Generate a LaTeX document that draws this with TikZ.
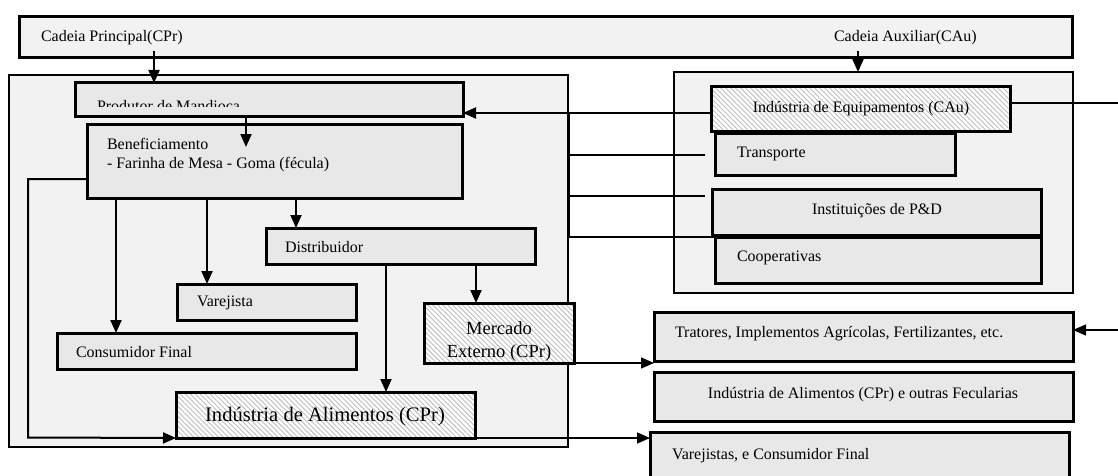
\documentclass[tikz,border=0pt]{standalone}
\usepackage{fontspec}
\setmainfont{Liberation Serif}
\usetikzlibrary{arrows.meta,patterns.meta}
\definecolor{barfill}{HTML}{F2F2F2}
\definecolor{boxfill}{HTML}{E8E8E8}
\definecolor{hatchcol}{HTML}{BEBEBE}
\tikzset{
  outerbox/.style={draw=black, line width=2pt, fill=barfill},
  topbar/.style={draw=black, line width=3pt, fill=barfill},
  innerbox/.style={draw=black, line width=3pt, fill=boxfill},
  hatchbox/.style={draw=black, line width=3pt, preaction={fill=white},
    preaction={pattern={Lines[angle=-45,distance=3.5pt,line width=0.9pt]}, pattern color=hatchcol}},
  conn/.style={line width=2pt},
  arr/.style={line width=2pt, -{Triangle[length=13pt,width=11pt]}},
  thinarr/.style={line width=1.4pt, -{Triangle[length=13pt,width=11pt]}},
  lbl/.style={font=\fontsize{16}{19}\selectfont, inner sep=0pt, outer sep=0pt},
}
\newcommand\mybox[6]{\node[#2, anchor=north west, inner sep=0pt, outer sep=0pt,
  minimum width={(#5-#3)*1pt}, minimum height={(#6-#4)*1pt}] (#1) at (#3,#4) {};}
\begin{document}
\begin{tikzpicture}[x=1pt,y=-1pt]
\clip (0,0) rectangle (1118,476);
\fill[white] (0,0) rectangle (1118,476);
% top bar and big boxes
\mybox{top}{topbar}{19}{17}{1072}{58}
\mybox{cpr}{outerbox}{9}{75}{568}{447}
\mybox{cau}{outerbox}{674}{72}{1073}{293}
% inner boxes left
\mybox{prod}{innerbox}{75}{83}{463}{117}
\mybox{benef}{innerbox}{87}{125}{462}{198}
\mybox{dist}{innerbox}{266}{228}{535}{264}
\mybox{var}{innerbox}{177}{284}{356}{320}
\mybox{cons}{innerbox}{57}{333}{356}{369}
\mybox{merc}{hatchbox}{424}{303}{574}{363}
\mybox{ind}{hatchbox}{176}{392}{475}{438}
% inner boxes right
\mybox{ie}{hatchbox}{711}{87}{1010}{131}
\mybox{trans}{innerbox}{715}{133}{955}{175}
\mybox{inst}{innerbox}{712}{189}{1041}{235}
\mybox{coop}{innerbox}{715}{237}{1041}{283}
\mybox{trat}{innerbox}{654}{312}{1073}{361}
\mybox{indf}{innerbox}{654}{372}{1073}{421}
\mybox{varf}{innerbox}{650}{432}{1069}{490}
% texts
\node[lbl, anchor=west] (tcpr) at (41,38) {Cadeia Principal(CPr)};
\node[lbl, anchor=west] (tcau) at (834,38) {Cadeia Auxiliar(CAu)};
\begin{scope}
  \clip (75,83) rectangle (463,107);
  \node[lbl, anchor=base west] (tprod) at (97,111) {Produtor de Mandioca};
\end{scope}
\node[lbl, anchor=west] (tbenef1) at (107,144) {Beneficiamento};
\node[lbl, anchor=west] (tbenef2) at (107,165) {- Farinha de Mesa - Goma (fécula)};
\node[lbl, anchor=west] (tdist) at (285,247) {Distribuidor};
\node[lbl, anchor=west] (tvar) at (197,303) {Varejista};
\node[lbl, anchor=west] (tcons) at (76,352) {Consumidor Final};
\node[inner sep=0pt, align=center, font=\fontsize{18.5}{23}\selectfont] (tmerc) at (499,342) {Mercado\\Externo (CPr)};
\node[inner sep=0pt, font=\fontsize{20.6}{24}\selectfont] (tind) at (325,417) {Indústria de Alimentos (CPr)};
\node[lbl] (tie) at (861,109) {Indústria de Equipamentos (CAu)};
\node[lbl, anchor=west] (ttrans) at (737,154) {Transporte};
\node[lbl] (tinst) at (877,211) {Instituições de P\&D};
\node[lbl, anchor=west] (tcoop) at (737,258) {Cooperativas};
\node[lbl, anchor=west] (ttrat) at (675,334) {Tratores, Implementos Agrícolas, Fertilizantes, etc.};
\node[lbl] (tindf) at (863,395) {Indústria de Alimentos (CPr) e outras Fecularias};
\node[lbl, anchor=west] (tvarf) at (672,456) {Varejistas, e Consumidor Final};
% connectors
\coordinate (cprstart) at (154,51);
\coordinate (caustart) at (858,51);
\draw[arr] (cprstart) -- (cprstart |- prod.north);
\draw[arr] (caustart) -- (caustart |- cau.north);
\coordinate (benefin) at (246,147);
\draw[arr] (benefin |- prod.south) -- (benefin);
\draw[arr] (116,0 |- benef.south) -- (116,0 |- cons.north);
\draw[arr] (207,0 |- benef.south) -- (207,0 |- var.north);
\draw[arr] (296,0 |- benef.south) -- (296,0 |- dist.north);
\draw[arr] (benef.west |- 0,179) -- (28,179) -- (28,437.5) -- (ind.south west);
\draw[arr] (386,0 |- dist.south) -- (386,0 |- ind.north);
\draw[arr] (476,0 |- dist.south) -- (476,0 |- merc.north);
\draw[thinarr] (merc.south east) -- (trat.west |- merc.south east);
\draw[thinarr] (ind.south east) -- (varf.west |- ind.south east);
% auxiliary chain bus
\coordinate (busT) at (568,113);
\coordinate (busB) at (568,237);
\draw[arr] (ie.west |- busT) -- (prod.east |- busT);
\draw[line width=3pt] (busT) -- (busB);
\coordinate (endtrans) at (705,155);
\coordinate (endinst) at (705,196);
\coordinate (endcoop) at (750,237);
\draw[conn] (busT |- endtrans) -- (endtrans);
\draw[conn] (busT |- endinst) -- (endinst);
\draw[conn] (busB) -- (endcoop);
\coordinate (redge1) at (1118,103);
\coordinate (redge2) at (1118,330);
\draw[conn] (ie.east |- redge1) -- (redge1);
\draw[thinarr] (redge2) -- (trat.east |- redge2);
\end{tikzpicture}
\end{document}
